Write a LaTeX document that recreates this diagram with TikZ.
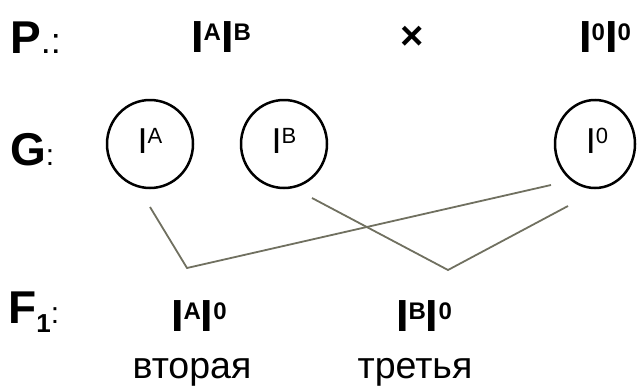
\documentclass[tikz,border=0pt]{standalone}
\usepackage{fontspec}
\setmainfont{Liberation Sans}
\usetikzlibrary{shapes.geometric}
\definecolor{linkgray}{RGB}{112,112,96}

% bold genotype: big I with a raised allele letter
\newcommand\gbold[1]{\textbf{\fontsize{45}{45}\selectfont I\raisebox{12pt}{\fontsize{24}{24}\selectfont #1}}}
% regular gamete: I with a raised allele letter
\newcommand\greg[1]{{\fontsize{36}{36}\selectfont I\raisebox{10pt}{\fontsize{22}{22}\selectfont #1}}}

\begin{document}
\begin{tikzpicture}[x=1pt,y=-1pt,
  txt/.style={inner sep=0pt, anchor=base},
  lbl/.style={inner sep=0pt, anchor=base west},
  gamete/.style={draw, ellipse, line width=2.5pt, inner sep=0pt},
  link/.style={draw=linkgray, line width=1.8pt}]
\useasboundingbox (0,0) rectangle (639,388);

% row labels
\node[lbl] (rowP) at (10,53) {\textbf{\fontsize{46}{46}\selectfont P}{\fontsize{36}{36}\selectfont .:}};
\node[lbl] (rowG) at (10,165) {\textbf{\fontsize{46}{46}\selectfont G}{\fontsize{30}{30}\selectfont :}};
\node[lbl] (rowF) at (8,323) {\textbf{\fontsize{46}{46}\selectfont F\raisebox{-9pt}{\fontsize{26}{26}\selectfont 1}}{\fontsize{30}{30}\selectfont :}};

% parents
\node[txt] (p1) at (221,52) {\gbold{A}\gbold{B}};
\node[txt] (cross) at (412,49) {\fontsize{40}{40}\selectfont\bfseries ×};
\node[txt] (p2) at (605,52) {\gbold{0}\gbold{0}};

% gametes
\node[gamete, minimum width=86pt, minimum height=88pt] (gA) at (150,144) {};
\node[gamete, minimum width=86pt, minimum height=88pt] (gB) at (284,144) {};
\node[gamete, minimum width=80pt, minimum height=88pt] (g0) at (595,144) {};
\node[txt] (tA) at (150,153) {\greg{A}};
\node[txt] (tB) at (284,153) {\greg{B}};
\node[txt] (t0) at (597,153) {\greg{0}};

% offspring
\node[txt] (f1) at (199,331) {\gbold{A}\gbold{0}};
\node[txt] (f2) at (424,331) {\gbold{B}\gbold{0}};
\node[txt] (w1) at (192,378) {\fontsize{37.5}{37.5}\selectfont вторая};
\node[txt] (w2) at (415,378) {\fontsize{37.5}{37.5}\selectfont третья};

% crossing lines
\coordinate (a1) at (150,207);
\coordinate (a2) at (187,268);
\coordinate (a3) at (551,185);
\coordinate (b1) at (312,198);
\coordinate (b2) at (448,270);
\coordinate (b3) at (568,206);
\draw[link] (a1) -- (a2) -- (a3);
\draw[link] (b1) -- (b2) -- (b3);
\end{tikzpicture}
\end{document}
